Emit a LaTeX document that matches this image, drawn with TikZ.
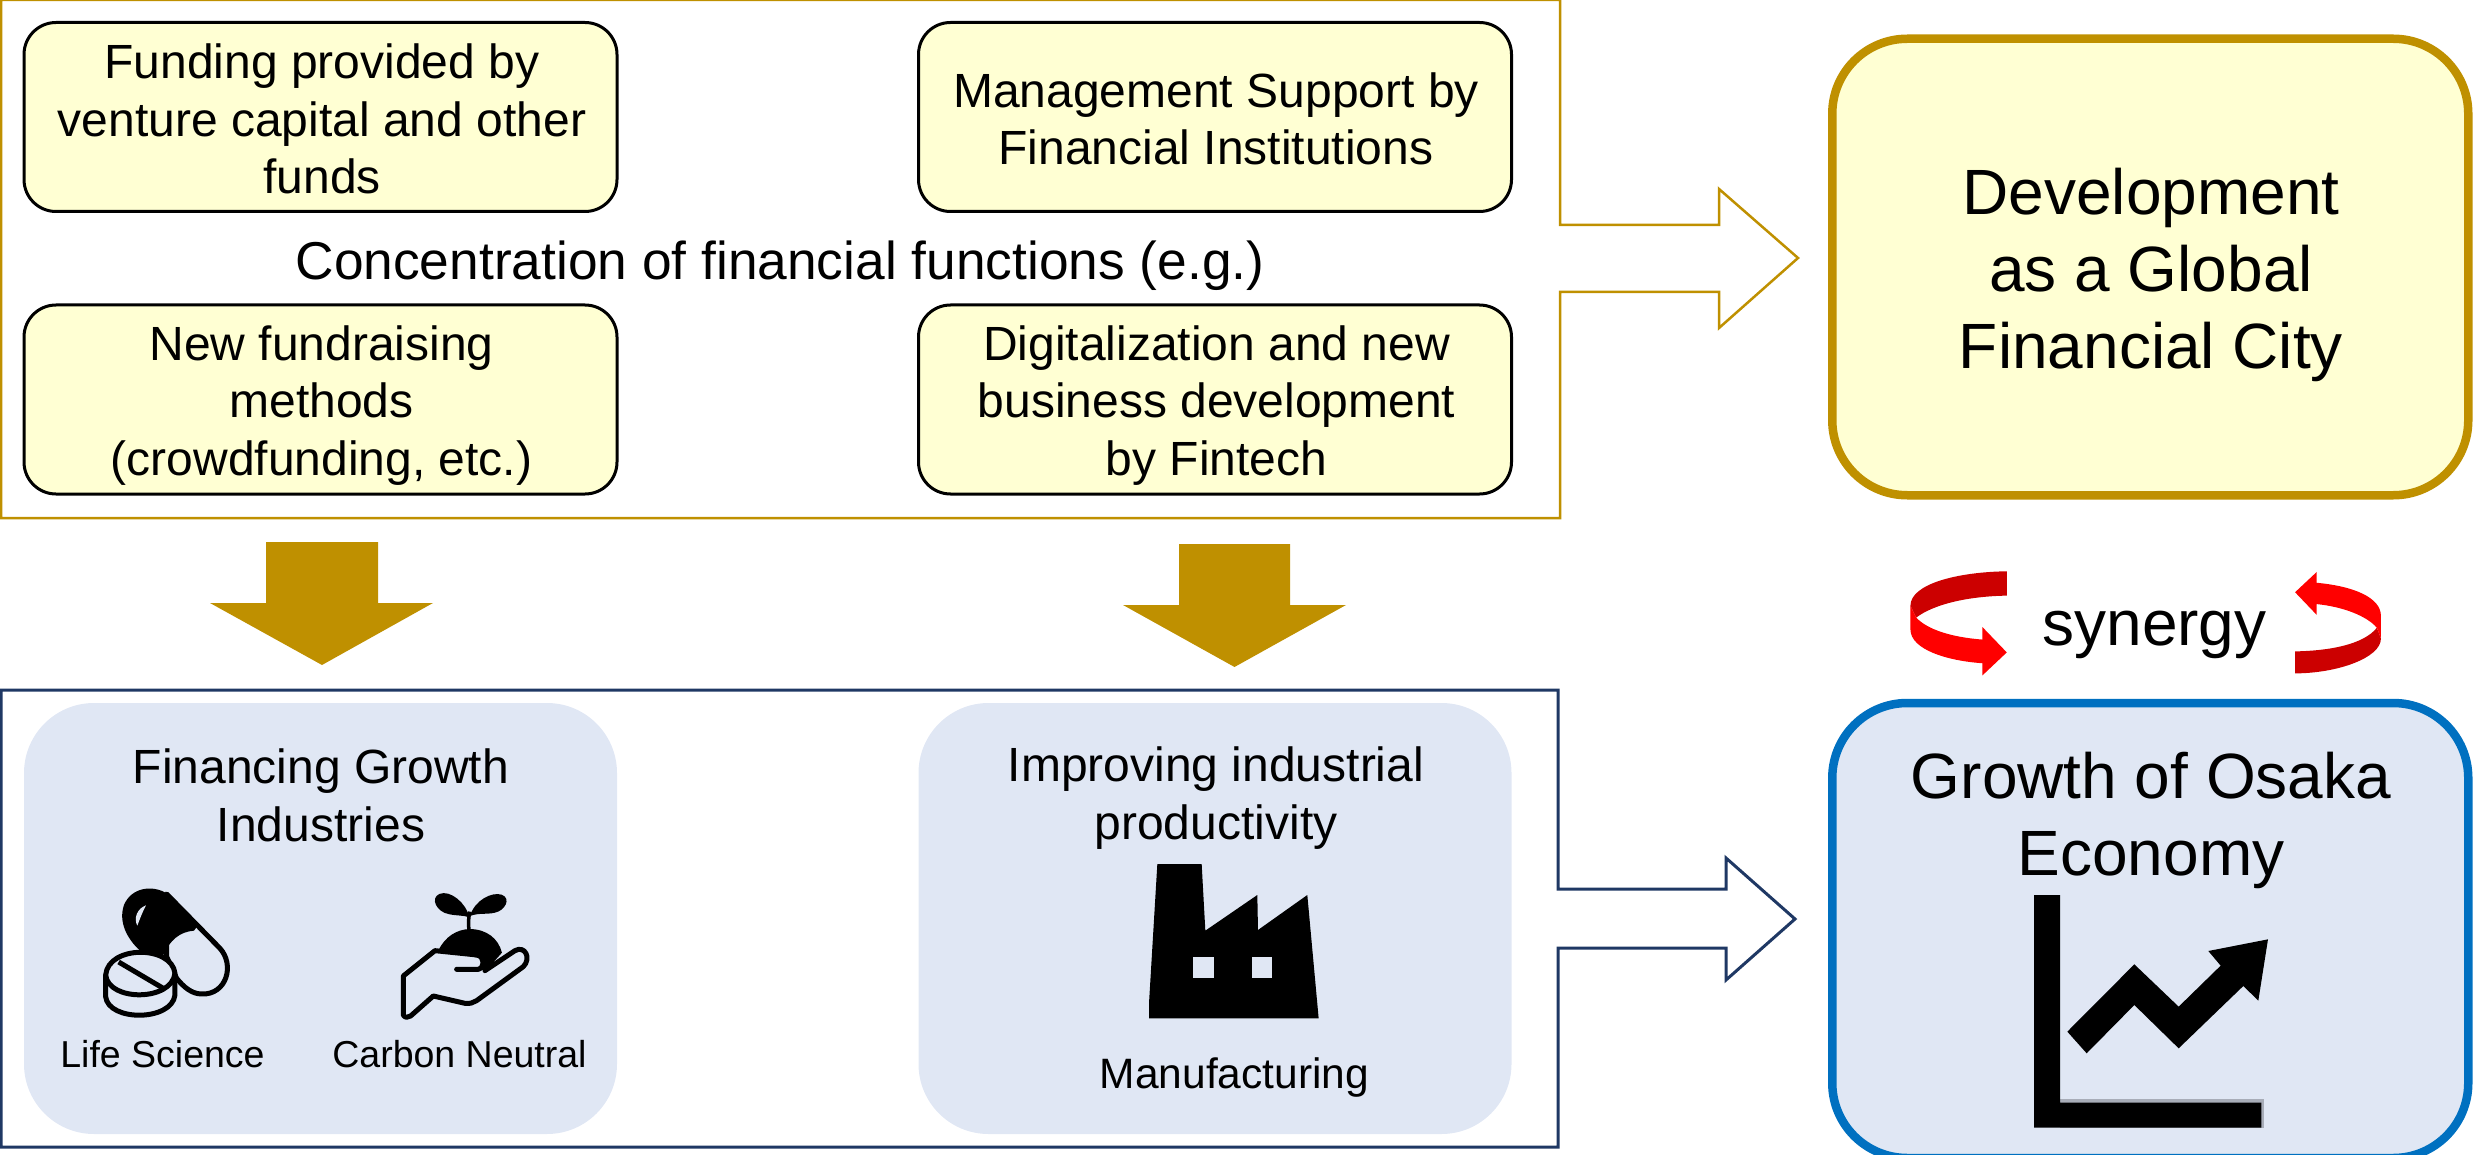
\documentclass[tikz,border=0pt]{standalone}
\usepackage{fontspec}
\setmainfont{Liberation Sans}
\definecolor{goldc}{HTML}{BF9000}
\definecolor{navyc}{HTML}{1F3864}
\definecolor{bluec}{HTML}{0070C0}
\definecolor{yellowc}{HTML}{FFFFD3}
\definecolor{panelc}{HTML}{E0E7F4}
\definecolor{redc}{HTML}{FF0000}
\definecolor{darkredc}{HTML}{CC0000}
\definecolor{edgec}{HTML}{A8ADB8}
\tikzset{
  txtm/.style={align=center,inner sep=0pt,font=\fontsize{48}{57.5}\selectfont},
  txtl/.style={align=center,inner sep=0pt,font=\fontsize{64}{76.8}\selectfont},
  txts/.style={align=center,inner sep=0pt,font=\fontsize{37.5}{45}\selectfont},
  fnbox/.style={draw=black,line width=3pt,fill=yellowc,rounded corners=32pt,minimum width=593pt,minimum height=189pt,inner sep=0pt,outer sep=0pt},
  panelbox/.style={fill=panelc,draw=none,rounded corners=70pt,minimum width=593pt,minimum height=431pt,inner sep=0pt,outer sep=0pt},
  bigbox/.style={line width=8.5pt,rounded corners=75pt,minimum width=636pt,inner sep=0pt,outer sep=0pt},
  icon/.style={shift={(#1)},x=0.3333pt,y=-0.3333pt},
  iconline/.style={draw=black,line width=5pt,line join=round,line cap=round},
}
\begin{document}
\begin{tikzpicture}[x=1pt,y=-1pt]
\useasboundingbox (0,0) rectangle (2475,1155);
\clip (0,0) rectangle (2475,1155);
% frames with block arrows
\draw[goldc,line width=2.5pt,miter limit=10]
  (1,0) -- (1560,0) -- (1560,225) -- (1719,225) -- (1719,189) -- (1798,258) -- (1719,328) -- (1719,292) -- (1560,292) -- (1560,518) -- (1,518) -- cycle;
\draw[navyc,line width=3pt,miter limit=10]
  (1,690) -- (1558,690) -- (1558,889) -- (1726,889) -- (1726,858) -- (1795,919) -- (1726,980) -- (1726,948) -- (1558,948) -- (1558,1147) -- (1,1147) -- cycle;
% yellow boxes
\node[fnbox] (fundbox) at (320.5,117) {};
\node[fnbox] (mgmtbox) at (1215,117) {};
\node[fnbox] (newbox) at (320.5,399.5) {};
\node[fnbox] (digibox) at (1215,399.5) {};
\node[txtm] (fundtxt) at (322,119) {Funding provided by\\venture capital and other\\funds};
\node[txtm] (mgmttxt) at (1216,119) {Management Support by\\Financial Institutions};
\node[txtm] (newtxt) at (321.5,405.5) {New fundraising\\methods\\(crowdfunding, etc.)};
\node[txtm] (digitxt) at (1216.5,405.5) {Digitalization and new\\business development\\by Fintech};
\node[align=center,inner sep=0pt,font=\fontsize{53.3}{64}\selectfont] (conc) at (780,266) {Concentration of financial functions (e.g.)};
% gold down arrows
\fill[goldc] (266,542) -- (378,542) -- (378,603) -- (433,603) -- (322,665) -- (210,603) -- (266,603) -- cycle;
\fill[goldc] (1179,544) -- (1290,544) -- (1290,605) -- (1346,605) -- (1234.5,667) -- (1123,605) -- (1179,605) -- cycle;
% panels
\node[panelbox] (growthpanel) at (320.5,918.5) {};
\node[panelbox] (prodpanel) at (1215,918.5) {};
\node[txtm] (growthtxt) at (321,795.5) {Financing Growth\\Industries};
\node[txtm] (prodtxt) at (1216,798) {Improving industrial\\productivity};
\node[txts] (lifetxt) at (162.5,1054) {Life Science};
\node[txts] (carbontxt) at (459.5,1054) {Carbon Neutral};
\node[align=center,inner sep=0pt,font=\fontsize{42.5}{51}\selectfont] (mfgtxt) at (1234.5,1077.5) {Manufacturing};
% big boxes
\node[bigbox,draw=goldc,fill=yellowc,minimum height=456.5pt] (devbox) at (2150.25,267) {};
\node[bigbox,draw=bluec,fill=panelc,minimum height=455pt] (econbox) at (2150.25,930.5) {};
\node[txtl] (devtxt) at (2151,275) {Development\\as a Global\\Financial City};
\node[txtl] (econtxt) at (2151,820.5) {Growth of Osaka\\Economy};
\node[txtl] (syn) at (2154.5,635) {synergy};
% capsule and tablet icon
\begin{scope}[icon={20,880}]
  \path[iconline,fill=panelc] (440,42) -- (600,205) .. controls (645,255) and (620,345) .. (545,342) .. controls (515,342) and (490,320) .. (470,295) -- (440,230) -- cycle;
  \fill[black] (440,40) .. controls (400,15) and (335,20) .. (312,75) .. controls (295,125) and (320,175) .. (360,212) -- (430,225) .. controls (450,180) and (480,155) .. (522,152) -- (534,136) -- cycle;
  \fill[panelc] (378,76) .. controls (352,85) and (340,115) .. (352,137) .. controls (360,115) and (368,95) .. (378,76) -- cycle;
  \path[iconline,fill=panelc] (257,285) -- (257,350) .. controls (265,425) and (455,425) .. (465,345) -- (465,280) .. controls (455,195) and (265,195) .. (257,285) -- cycle;
  \draw[iconline,line cap=butt] (257,285) .. controls (265,365) and (455,365) .. (465,280);
  \draw[iconline,line cap=butt] (296,246) -- (435,328);
\end{scope}
% hand and sprout icon
\begin{scope}[icon={20,880}]
  \fill[black] (1255,212) .. controls (1275,170) and (1310,148) .. (1350,147) .. controls (1400,148) and (1435,175) .. (1446,218) -- (1395,275) -- (1385,235) -- cycle;
  \draw[black,line width=3.5pt] (1347,150) .. controls (1345,130) and (1345,115) .. (1350,95);
  \fill[black] (1348,112) .. controls (1340,70) and (1290,28) .. (1258,42) .. controls (1230,55) and (1250,95) .. (1285,102) .. controls (1310,108) and (1330,105) .. (1348,112) -- cycle;
  \fill[black] (1350,108) .. controls (1365,60) and (1415,35) .. (1445,44) .. controls (1475,55) and (1455,92) .. (1425,98) .. controls (1400,104) and (1375,98) .. (1350,108) -- cycle;
  \draw[iconline] (1310,268) -- (1375,268) .. controls (1395,262) and (1395,232) .. (1372,225) -- (1245,212) -- (1150,288) -- (1150,405) .. controls (1155,415) and (1165,412) .. (1172,408) -- (1240,348) -- (1335,370) .. controls (1350,372) and (1360,368) .. (1370,362) -- (1510,260) .. controls (1535,235) and (1515,195) .. (1485,212) -- (1395,272);
\end{scope}
% factory icon
\begin{scope}[icon={1100,840}]
  \fill[black] (172,72) -- (305,72) -- (316,272) -- (472,165) -- (474,270) -- (622,165) -- (656,535) -- (147,535) -- (147,490) -- cycle;
  \fill[panelc] (280,352) rectangle (342,414);
  \fill[panelc] (455,352) rectangle (517,414);
\end{scope}
% chart icon
\begin{scope}[icon={1990,870}]
  \fill[edgec] (210,687) rectangle (822,773);
  \fill[black] (132,75) -- (210,75) -- (210,698) -- (814,698) -- (814,773) -- (132,773) -- cycle;
  \fill[black] (232,485) -- (433,283) -- (566,410) -- (692,287) -- (655,243) -- (834,208) -- (805,392) -- (760,348) -- (566,535) -- (433,405) -- (290,550) -- cycle;
\end{scope}
% synergy arrows
\begin{scope}[shift={(1880,550)},x=0.338pt,y=-0.338pt]
  \fill[darkredc] (375,63) .. controls (230,65) and (90,100) .. (90,165) -- (107,200) .. controls (160,160) and (260,137) .. (375,135) -- cycle;
  \fill[redc] (90,165) -- (90,235) .. controls (90,295) and (200,328) .. (303,335) -- (303,371) -- (375,303) -- (303,228) -- (303,265) .. controls (210,258) and (140,235) .. (107,200) -- cycle;
  \fill[darkredc] (1228,300) .. controls (1330,298) and (1430,280) .. (1470,230) -- (1482,262) .. controls (1482,320) and (1350,365) .. (1228,365) -- cycle;
  \fill[redc] (1292,97) .. controls (1400,107) and (1482,140) .. (1482,195) -- (1482,262) -- (1470,230) .. controls (1440,195) and (1370,168) .. (1292,160) -- (1292,192) -- (1228,125) -- (1292,65) -- cycle;
\end{scope}
\end{tikzpicture}
\end{document}
